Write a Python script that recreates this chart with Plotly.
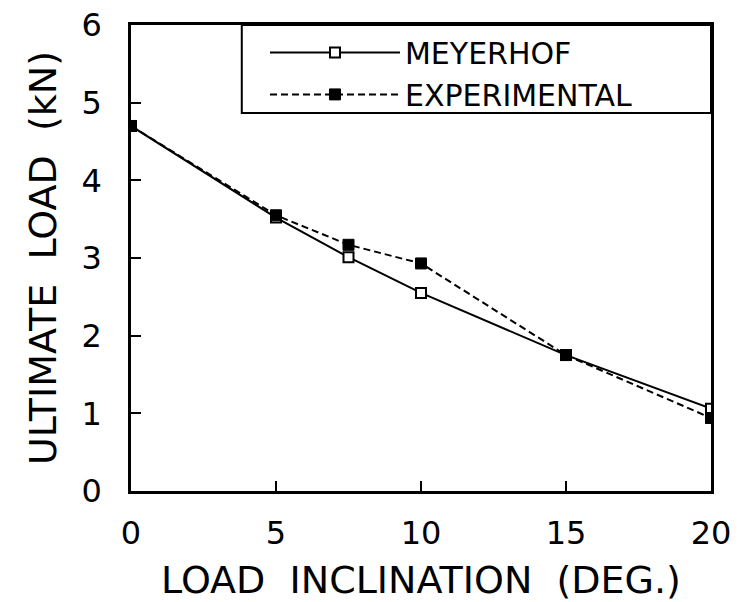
import plotly.graph_objects as go

inclination = [0, 5, 7.5, 10, 15, 20]
meyerhof = [4.70, 3.52, 3.01, 2.55, 1.75, 1.06]
experimental = [4.70, 3.55, 3.17, 2.93, 1.75, 0.94]

x_ticks = [0, 5, 10, 15, 20]
y_ticks = [0, 1, 2, 3, 4, 5, 6]

FONT = "DejaVu Sans"

fig = go.Figure()
fig.add_trace(go.Scatter(
    x=inclination, y=meyerhof, name="MEYERHOF", mode="lines+markers",
    line=dict(color="black", width=2, dash="solid"),
    marker=dict(symbol="square", size=10, color="white",
                line=dict(color="black", width=2)),
))
fig.add_trace(go.Scatter(
    x=inclination, y=experimental, name="EXPERIMENTAL", mode="lines+markers",
    line=dict(color="black", width=2, dash="7px,4px"),
    marker=dict(symbol="square", size=11, color="black",
                line=dict(color="black", width=1)),
))

axis_common = dict(
    showgrid=False, zeroline=False, showline=True, mirror=True,
    linecolor="black", linewidth=2.5,
    ticks="inside", ticklen=10, tickwidth=2, tickcolor="black",
    tickfont=dict(family=FONT, size=32, color="black"),
)

fig.update_xaxes(
    range=[0, 20], tickvals=x_ticks, ticktext=[str(v) for v in x_ticks],
    ticklabelstandoff=12,
    title=dict(text="LOAD  INCLINATION  (DEG.)",
               font=dict(family=FONT, size=38, color="black"), standoff=18),
    **axis_common,
)
fig.update_yaxes(
    range=[0, 6], tickvals=y_ticks, ticktext=[str(v) for v in y_ticks],
    ticklabelstandoff=20,
    title=dict(text="ULTIMATE  LOAD  (kN)",
               font=dict(family=FONT, size=38, color="black"), standoff=14),
    **axis_common,
)

# legend frame spanning to the right edge of the plot
fig.add_shape(type="rect", xref="paper", yref="paper",
              x0=0.191, x1=1.0, y0=0.811, y1=1.0,
              line=dict(color="black", width=2), fillcolor="white",
              layer="below")

fig.update_layout(
    width=741, height=602,
    margin=dict(l=131, r=30, t=25, b=111, autoexpand=False),
    paper_bgcolor="white", plot_bgcolor="white",
    showlegend=True,
    legend=dict(
        x=0.231, y=0.997, xanchor="left", yanchor="top",
        orientation="v",
        bgcolor="rgba(0,0,0,0)", borderwidth=0,
        font=dict(family=FONT, size=30, color="black"),
        itemwidth=130, tracegroupgap=0,
    ),
)

fig.write_html("out.html")
